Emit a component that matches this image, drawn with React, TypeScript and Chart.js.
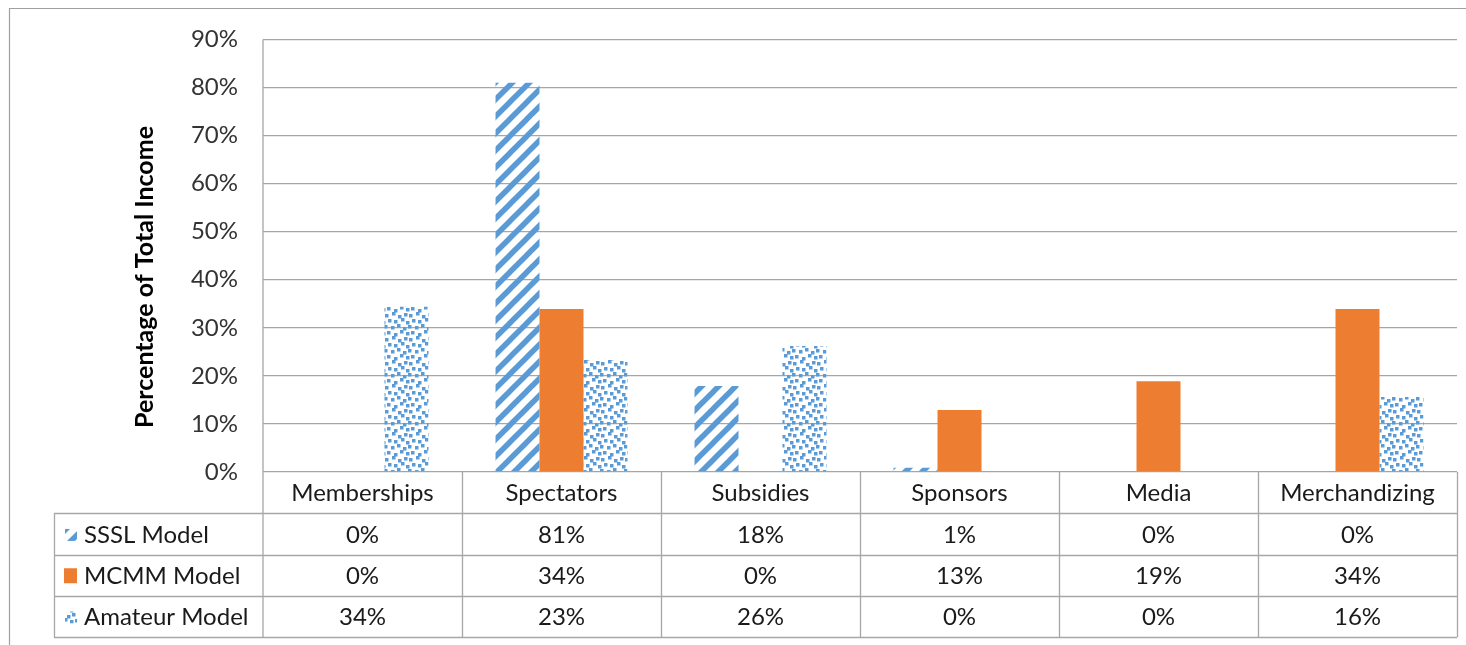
import React, { useEffect, useRef } from "react";
import { Chart, registerables } from "chart.js";

Chart.register(...registerables);

const categories = ["Memberships", "Spectators", "Subsidies", "Sponsors", "Media", "Merchandizing"];
const seriesNames = ["SSSL Model", "MCMM Model", "Amateur Model"];
const ssslValues = [0, 81.0, 17.9, 0.9, 0, 0];
const mcmmValues = [0, 33.9, 0, 12.9, 18.9, 33.9];
const amateurValues = [34.4, 23.3, 26.2, 0, 0, 15.6];
const yTicks = [0, 10, 20, 30, 40, 50, 60, 70, 80, 90];
const yTitle = "Percentage of Total Income";

const BLUE = "#5b9bd5";
const ORANGE = "#ed7d31";
const GRID = "#a6a6a6";
const FONT = "Lato, 'Open Sans', sans-serif";

function makeStripePattern(ctx: CanvasRenderingContext2D): CanvasPattern | string {
  const s = 17;
  const c = document.createElement("canvas");
  c.width = s;
  c.height = s;
  const g = c.getContext("2d")!;
  g.strokeStyle = BLUE;
  g.lineWidth = 5.5;
  for (let k = -1; k <= 1; k++) {
    g.beginPath();
    g.moveTo(k * s - 3, s + 3);
    g.lineTo(k * s + s + 3, -3);
    g.stroke();
  }
  return ctx.createPattern(c, "repeat") || BLUE;
}

const dotOffsets: [number, number][] = [
  [1, 2], [8, 0], [14, 3], [20, 1],
  [4, 7], [10, 8], [17, 6], [22, 9],
  [0, 13], [7, 14], [13, 12], [19, 15],
  [3, 19], [10, 21], [16, 18], [22, 20],
];

function makeDotPattern(ctx: CanvasRenderingContext2D): CanvasPattern | string {
  const s = 24;
  const c = document.createElement("canvas");
  c.width = s;
  c.height = s;
  const g = c.getContext("2d")!;
  g.fillStyle = BLUE;
  for (const [x, y] of dotOffsets) {
    g.fillRect(x, y, 3.5, 3.5);
    if (x + 3.5 > s) g.fillRect(x - s, y, 3.5, 3.5);
    if (y + 3.5 > s) g.fillRect(x, y - s, 3.5, 3.5);
  }
  return ctx.createPattern(c, "repeat") || BLUE;
}

export default function App() {
  const canvasRef = useRef<HTMLCanvasElement | null>(null);

  useEffect(() => {
    const canvas = canvasRef.current;
    if (!canvas) return;
    const ctx = canvas.getContext("2d")!;
    const stripe = makeStripePattern(ctx);
    const dots = makeDotPattern(ctx);
    const fills = [stripe, ORANGE, dots];
    const allValues = [ssslValues, mcmmValues, amateurValues];

    const TABLE_LEFT = 54;
    const ROW_H = 41.3;

    const tablePlugin = {
      id: "tablePlugin",
      afterDraw(chart: any) {
        const c: CanvasRenderingContext2D = chart.ctx;
        const area = chart.chartArea;
        const left = area.left;
        const right = area.right;
        const bottom = area.bottom;
        const colW = (right - left) / categories.length;
        c.save();
        // outer frame (left & top)
        c.strokeStyle = "#a0a0a0";
        c.lineWidth = 1.2;
        c.beginPath();
        c.moveTo(9.5, 645);
        c.lineTo(9.5, 8.5);
        c.lineTo(1466, 8.5);
        c.stroke();

        // table lines
        c.strokeStyle = GRID;
        c.lineWidth = 1.3;
        c.beginPath();
        const rowTop = bottom + ROW_H;
        for (let r = 0; r <= 3; r++) {
          const y = Math.round(rowTop + r * ROW_H) + 0.5;
          c.moveTo(TABLE_LEFT, y);
          c.lineTo(right, y);
        }
        c.moveTo(TABLE_LEFT + 0.5, rowTop);
        c.lineTo(TABLE_LEFT + 0.5, rowTop + 3 * ROW_H);
        c.moveTo(left, area.top);
        c.lineTo(left, rowTop + 3 * ROW_H);
        for (let i = 1; i <= categories.length; i++) {
          const x = Math.round(left + i * colW) + 0.5;
          c.moveTo(x, bottom);
          c.lineTo(x, rowTop + 3 * ROW_H);
        }
        c.stroke();

        // category labels
        c.fillStyle = "#1a1a1a";
        c.font = `24px ${FONT}`;
        c.textAlign = "center";
        c.textBaseline = "middle";
        categories.forEach((cat, i) => {
          c.fillText(cat, left + (i + 0.5) * colW, bottom + ROW_H / 2 + 1);
        });
        // rows
        seriesNames.forEach((name, r) => {
          const cy = rowTop + (r + 0.5) * ROW_H + 1;
          c.textAlign = "left";
          c.fillStyle = "#1a1a1a";
          c.fillText(name, 84, cy);
          // icon
          c.fillStyle = fills[r] as any;
          if (r === 1) c.fillRect(64, cy - 8, 13, 15);
          else c.fillRect(65, cy - 6, 12, 12);
          c.fillStyle = "#1a1a1a";
          c.textAlign = "center";
          allValues[r].forEach((v, i) => {
            c.fillText(`${Math.round(v)}%`, left + (i + 0.5) * colW, cy);
          });
        });

        // y title
        c.save();
        c.translate(145, 277);
        c.rotate(-Math.PI / 2);
        c.font = `bold 25px ${FONT}`;
        c.fillStyle = "#000000";
        c.textAlign = "center";
        c.textBaseline = "middle";
        c.fillText(yTitle, 0, 0);
        c.restore();
        c.restore();
      },
    };

    const chart = new Chart(canvas, {
      type: "bar",
      data: {
        labels: categories,
        datasets: seriesNames.map((name, i) => ({
          label: name,
          data: allValues[i],
          backgroundColor: fills[i] as any,
          borderWidth: 0,
          categoryPercentage: 0.663,
          barPercentage: 1,
        })),
      },
      options: {
        animation: false,
        responsive: true,
        maintainAspectRatio: false,
        layout: { padding: { top: 36, right: 9, bottom: 173, left: 0 } },
        plugins: { legend: { display: false }, tooltip: { enabled: false } },
        scales: {
          x: { display: false },
          y: {
            min: 0,
            max: 90,
            afterFit: (scale: any) => {
              scale.width = 263;
            },
            afterBuildTicks: (scale: any) => {
              scale.ticks = yTicks.map((v) => ({ value: v }));
            },
            ticks: {
              padding: 25,
              color: "#333333",
              font: { size: 24, family: FONT },
              callback: (v: any) => `${v}%`,
            },
            grid: { color: GRID, lineWidth: 1.3, drawTicks: false },
            border: { display: false },
          },
        },
      },
      plugins: [tablePlugin],
    });
    return () => chart.destroy();
  }, []);

  return (
    <div style={{ position: "absolute", left: 0, top: 0, width: 1466, height: 645, background: "#fff" }}>
      <canvas ref={canvasRef} />
    </div>
  );
}
